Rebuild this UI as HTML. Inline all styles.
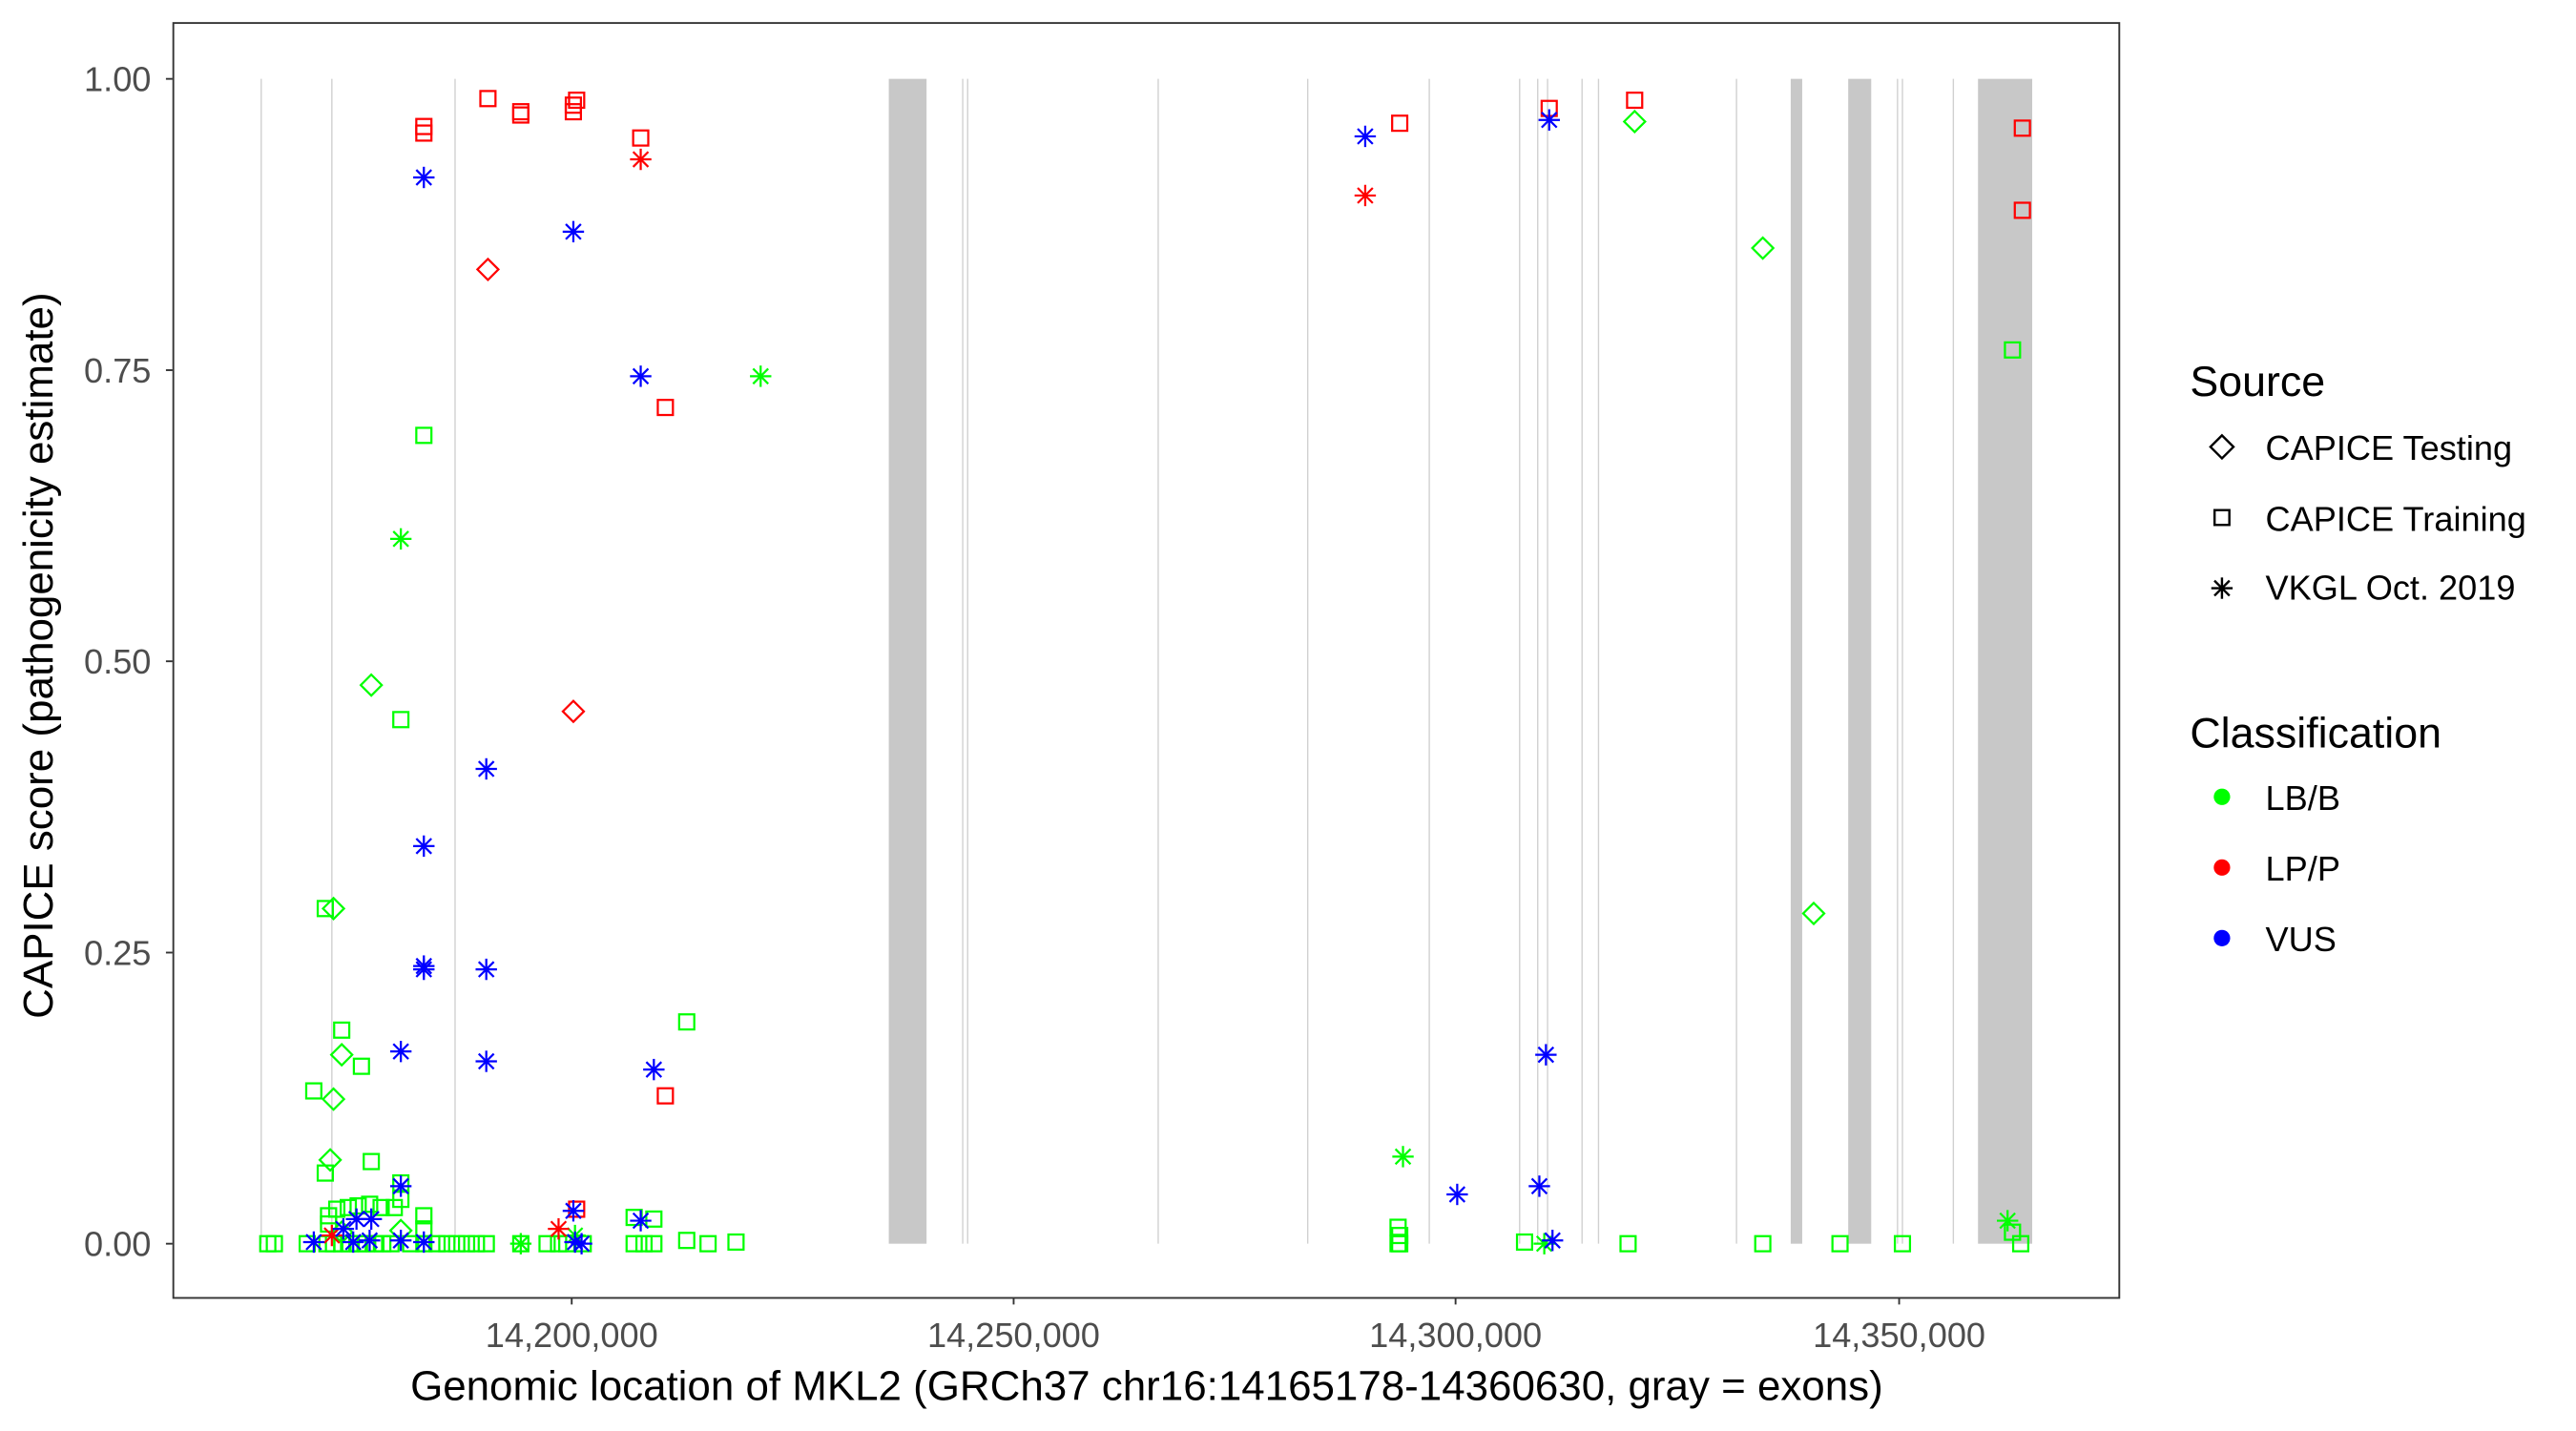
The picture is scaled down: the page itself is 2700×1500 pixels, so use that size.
<!DOCTYPE html>
<html><head><meta charset="utf-8"><style>
html,body{margin:0;padding:0;background:#fff;}
svg{display:block;}
text{font-family:"Liberation Sans",Arial,sans-serif;}
</style></head><body>
<svg width="2700" height="1500" viewBox="0 0 1568 871" preserveAspectRatio="none" xmlns="http://www.w3.org/2000/svg">
<defs>
<g id="sq"><rect x="-4.6" y="-4.6" width="9.2" height="9.2" fill="none" stroke-width="1.3"/></g>
<g id="di"><polygon points="0,-6.4 6.4,0 0,6.4 -6.4,0" fill="none" stroke-width="1.3"/></g>
<g id="st" stroke-width="1.3"><line x1="0" y1="-6.5" x2="0" y2="6.5"/><line x1="-6.5" y1="0" x2="6.5" y2="0"/><line x1="-4.6" y1="-4.6" x2="4.6" y2="4.6"/><line x1="-4.6" y1="4.6" x2="4.6" y2="-4.6"/></g>
</defs>
<rect x="0" y="0" width="1568" height="871" fill="#fff"/>
<g stroke="#d0d0d0" stroke-width="0.8">
<line x1="159" y1="48" x2="159" y2="757"/><line x1="202" y1="48" x2="202" y2="757"/><line x1="277" y1="48" x2="277" y2="757"/>
<line x1="586" y1="48" x2="586" y2="757"/><line x1="589" y1="48" x2="589" y2="757"/><line x1="705" y1="48" x2="705" y2="757"/>
<line x1="796" y1="48" x2="796" y2="757"/><line x1="870" y1="48" x2="870" y2="757"/><line x1="925" y1="48" x2="925" y2="757"/>
<line x1="936" y1="48" x2="936" y2="757"/><line x1="942" y1="48" x2="942" y2="757"/><line x1="963" y1="48" x2="963" y2="757"/>
<line x1="973" y1="48" x2="973" y2="757"/><line x1="1057" y1="48" x2="1057" y2="757"/><line x1="1155" y1="48" x2="1155" y2="757"/>
<line x1="1158" y1="48" x2="1158" y2="757"/><line x1="1189" y1="48" x2="1189" y2="757"/>
</g>
<g fill="#c8c8c8">
<rect x="541" y="48" width="23" height="709"/>
<rect x="1090" y="48" width="7" height="709"/>
<rect x="1125" y="48" width="14" height="709"/>
<rect x="1204" y="48" width="33" height="709"/>
</g>
<g stroke="#00ff00">
<use href="#sq" x="258" y="265"/><use href="#sq" x="244" y="438"/><use href="#sq" x="208" y="627"/><use href="#sq" x="220" y="649"/>
<use href="#sq" x="191" y="664"/><use href="#sq" x="198" y="553"/><use href="#sq" x="198" y="714"/><use href="#sq" x="226" y="707"/>
<use href="#sq" x="418" y="622"/><use href="#sq" x="1225" y="213"/><use href="#sq" x="244" y="720"/><use href="#sq" x="244" y="730"/>
<use href="#sq" x="258" y="740"/><use href="#sq" x="258" y="748"/>
<use href="#sq" x="200" y="740"/><use href="#sq" x="205" y="736"/><use href="#sq" x="212" y="735"/><use href="#sq" x="218" y="734"/>
<use href="#sq" x="225" y="733"/><use href="#sq" x="232" y="735"/><use href="#sq" x="200" y="745"/><use href="#sq" x="240" y="735"/>
<use href="#sq" x="386" y="741"/><use href="#sq" x="398" y="742"/><use href="#sq" x="851" y="747"/><use href="#sq" x="852" y="752"/><use href="#sq" x="1225" y="750"/>
<use href="#sq" x="163" y="757"/><use href="#sq" x="167" y="757"/><use href="#sq" x="187" y="757"/><use href="#sq" x="199" y="757"/>
<use href="#sq" x="203" y="757"/><use href="#sq" x="208" y="757"/><use href="#sq" x="213" y="757"/><use href="#sq" x="218" y="757"/>
<use href="#sq" x="223" y="757"/><use href="#sq" x="228" y="757"/><use href="#sq" x="233" y="757"/><use href="#sq" x="238" y="757"/>
<use href="#sq" x="250" y="757"/><use href="#sq" x="258" y="757"/><use href="#sq" x="266" y="757"/><use href="#sq" x="272" y="757"/>
<use href="#sq" x="278" y="757"/><use href="#sq" x="284" y="757"/><use href="#sq" x="290" y="757"/><use href="#sq" x="296" y="757"/>
<use href="#sq" x="317" y="757"/><use href="#sq" x="333" y="757"/><use href="#sq" x="340" y="757"/><use href="#sq" x="345" y="757"/>
<use href="#sq" x="355" y="757"/><use href="#sq" x="386" y="757"/><use href="#sq" x="392" y="757"/><use href="#sq" x="398" y="757"/>
<use href="#sq" x="418" y="755"/><use href="#sq" x="431" y="757"/><use href="#sq" x="448" y="756"/><use href="#sq" x="851" y="757"/>
<use href="#sq" x="852" y="757"/><use href="#sq" x="928" y="756"/><use href="#sq" x="991" y="757"/><use href="#sq" x="1073" y="757"/>
<use href="#sq" x="1120" y="757"/><use href="#sq" x="1158" y="757"/><use href="#sq" x="1230" y="757"/>
</g>
<g stroke="#00ff00">
<use href="#di" x="995" y="74"/><use href="#di" x="1073" y="151"/><use href="#di" x="1104" y="556"/><use href="#di" x="226" y="417"/>
<use href="#di" x="203" y="553"/><use href="#di" x="208" y="642"/><use href="#di" x="203" y="669"/><use href="#di" x="201" y="706"/>
<use href="#di" x="208" y="750"/><use href="#di" x="244" y="749"/>
</g>
<g stroke="#00ff00">
<use href="#st" x="463" y="229"/><use href="#st" x="244" y="328"/><use href="#st" x="854" y="704"/><use href="#st" x="1222" y="743"/>
<use href="#st" x="317" y="757"/><use href="#st" x="940" y="757"/><use href="#st" x="350" y="752"/>
</g>
<g stroke="#ff0000">
<use href="#sq" x="258" y="77"/><use href="#sq" x="258" y="81"/><use href="#sq" x="297" y="60"/><use href="#sq" x="317" y="68"/>
<use href="#sq" x="317" y="70"/><use href="#sq" x="349" y="64"/><use href="#sq" x="351" y="61"/><use href="#sq" x="349" y="68"/>
<use href="#sq" x="390" y="84"/><use href="#sq" x="405" y="248"/><use href="#sq" x="405" y="667"/><use href="#sq" x="351" y="736"/>
<use href="#sq" x="852" y="75"/><use href="#sq" x="943" y="66"/><use href="#sq" x="995" y="61"/><use href="#sq" x="1231" y="78"/><use href="#sq" x="1231" y="128"/>
<use href="#di" x="297" y="164"/><use href="#di" x="349" y="433"/>
<use href="#st" x="390" y="97"/><use href="#st" x="831" y="119"/><use href="#st" x="340" y="748"/><use href="#st" x="202" y="752"/>
</g>
<g stroke="#0000ff">
<use href="#st" x="258" y="108"/><use href="#st" x="349" y="141"/><use href="#st" x="390" y="229"/><use href="#st" x="296" y="468"/>
<use href="#st" x="258" y="515"/><use href="#st" x="258" y="588"/><use href="#st" x="258" y="590"/><use href="#st" x="296" y="590"/>
<use href="#st" x="244" y="640"/><use href="#st" x="296" y="646"/><use href="#st" x="398" y="651"/><use href="#st" x="244" y="722"/>
<use href="#st" x="390" y="743"/><use href="#st" x="831" y="83"/><use href="#st" x="943" y="73"/><use href="#st" x="941" y="642"/>
<use href="#st" x="887" y="727"/><use href="#st" x="937" y="722"/><use href="#st" x="945" y="755"/><use href="#st" x="191" y="756"/>
<use href="#st" x="209" y="748"/><use href="#st" x="217" y="742"/><use href="#st" x="226" y="742"/><use href="#st" x="225" y="755"/>
<use href="#st" x="244" y="755"/><use href="#st" x="258" y="756"/><use href="#st" x="349" y="737"/><use href="#st" x="350" y="756"/>
<use href="#st" x="215" y="756"/><use href="#st" x="354" y="757"/>
</g>
<rect x="105.5" y="14" width="1184.5" height="776" fill="none" stroke="#333" stroke-width="1.1"/>
<g stroke="#333" stroke-width="1.1">
<line x1="101" y1="48" x2="105" y2="48"/><line x1="101" y1="225.3" x2="105" y2="225.3"/><line x1="101" y1="402.5" x2="105" y2="402.5"/>
<line x1="101" y1="579.8" x2="105" y2="579.8"/><line x1="101" y1="757" x2="105" y2="757"/>
<line x1="348" y1="790" x2="348" y2="794"/><line x1="617" y1="790" x2="617" y2="794"/><line x1="886" y1="790" x2="886" y2="794"/><line x1="1156" y1="790" x2="1156" y2="794"/>
</g>
<g fill="#4d4d4d" font-size="21" text-anchor="end">
<text x="92" y="55.5">1.00</text><text x="92" y="232.8">0.75</text><text x="92" y="410">0.50</text><text x="92" y="587.3">0.25</text><text x="92" y="764.5">0.00</text>
</g>
<g fill="#4d4d4d" font-size="21" text-anchor="middle">
<text x="348" y="820">14,200,000</text><text x="617" y="820">14,250,000</text><text x="886" y="820">14,300,000</text><text x="1156" y="820">14,350,000</text>
</g>
<text x="698" y="852" font-size="25.5" text-anchor="middle" fill="#000">Genomic location of MKL2 (GRCh37 chr16:14165178-14360630, gray = exons)</text>
<text transform="translate(32,399) rotate(-90)" font-size="25.5" text-anchor="middle" fill="#000">CAPICE score (pathogenicity estimate)</text>
<text x="1333" y="241" font-size="26" fill="#000">Source</text>
<g stroke="#000">
<polygon points="1352.5,265 1359.5,272 1352.5,279 1345.5,272" fill="none" stroke-width="1.4"/>
<rect x="1348" y="310.5" width="9" height="9" fill="none" stroke-width="1.4"/>
<g transform="translate(1352.5,358)" stroke-width="1.4"><line x1="0" y1="-6.5" x2="0" y2="6.5"/><line x1="-6.5" y1="0" x2="6.5" y2="0"/><line x1="-4.6" y1="-4.6" x2="4.6" y2="4.6"/><line x1="-4.6" y1="4.6" x2="4.6" y2="-4.6"/></g>
</g>
<g font-size="21" fill="#000">
<text x="1379" y="280">CAPICE Testing</text><text x="1379" y="323">CAPICE Training</text><text x="1379" y="365">VKGL Oct. 2019</text>
</g>
<text x="1333" y="455" font-size="26" fill="#000">Classification</text>
<circle cx="1352.5" cy="485" r="5" fill="#00ff00"/><circle cx="1352.5" cy="528" r="5" fill="#ff0000"/><circle cx="1352.5" cy="571" r="5" fill="#0000ff"/>
<g font-size="21" fill="#000">
<text x="1379" y="493">LB/B</text><text x="1379" y="536">LP/P</text><text x="1379" y="579">VUS</text>
</g>
</svg>
</body></html>
